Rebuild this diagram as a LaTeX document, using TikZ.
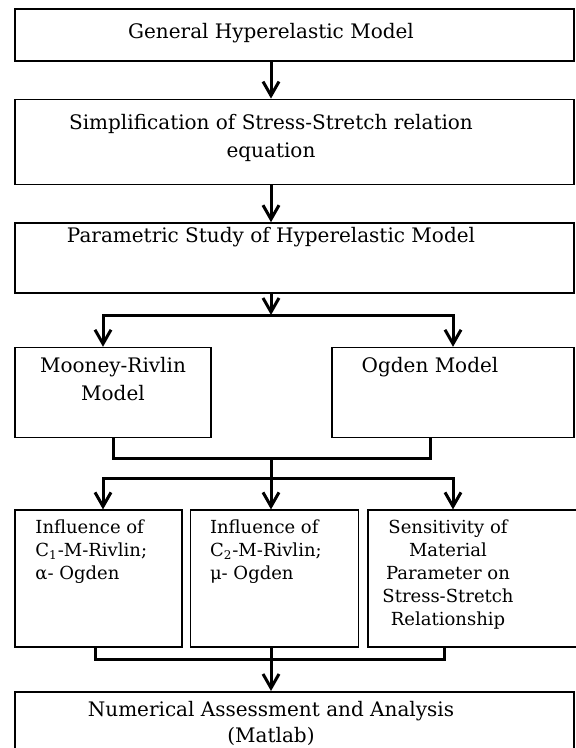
\documentclass[tikz,border=0pt]{standalone}
\usepackage{fontspec}
\setmainfont{DejaVu Serif}
\usetikzlibrary{positioning, arrows.meta}

\begin{document}
\begin{tikzpicture}[node distance=18.5pt,
   box/.style={draw, line width=0.8pt, inner sep=0pt, minimum height=#1},
   txt/.style={inner sep=0pt, align=center, font=\fontsize{10}{14}\selectfont},
   small/.style={inner sep=0pt, align=left, font=\fontsize{9}{11.5}\selectfont},
   link/.style={line width=1.5pt, -{Straight Barb[length=7pt,width=8pt]}},
   wire/.style={line width=1.5pt}]
   \useasboundingbox (0,0) rectangle (287.5pt,-374pt);
   % stems and junctions
   \coordinate (mid) at (135.5pt,0);
   \coordinate (lft) at (51.5pt,0);
   \coordinate (rgt) at (226.5pt,0);
   \coordinate (mrs) at (56.5pt,0);
   \coordinate (ogs) at (215pt,0);
   \coordinate (i1s) at (47.5pt,0);
   \coordinate (ses) at (222pt,0);
   \coordinate (j1) at (135.5pt,-157.5pt);
   \coordinate (j2) at (135.5pt,-229pt);
   \coordinate (j3) at (135.5pt,-239pt);
   \coordinate (j4) at (135.5pt,-329.5pt);

   % boxes
   \node[box=26pt, minimum width=279.5pt, anchor=north west] (gen) at (7pt,-4pt) {};
   \node[box=42.5pt, minimum width=279.5pt] (simp) [below=of gen] {};
   \node[box=35pt, minimum width=279.5pt] (par) [below=of simp] {};
   \node[box=45pt, minimum width=98pt] (mr) [below right=26.5pt and 0pt of par.south west] {};
   \node[box=45pt, minimum width=121pt] (og) [below left=26.5pt and 0pt of par.south east] {};
   \node[box=68.5pt, minimum width=83.5pt] (inf1) [below right=35.5pt and 0pt of mr.south west] {};
   \node[box=68.5pt, minimum width=84pt] (inf2) [right=3.5pt of inf1] {};
   \node[box=68.5pt, minimum width=104.5pt] (sens) [right=4pt of inf2] {};
   \node[box=34pt, minimum width=279.5pt] (num) [below right=21.5pt and 0pt of inf1.south west] {};

   % texts
   \node[txt, below=7.5pt] (gent) at (gen.north -| mid) {General Hyperelastic Model};
   \node[txt, below=7.5pt] (simpt) at (simp.north -| mid) {Simplification of Stress-Stretch relation\\equation};
   \node[txt, below=2.5pt] (part) at (par.north -| mid) {Parametric Study of Hyperelastic Model};
   \node[txt, below=5pt] (mrt) at (mr.north -| mrs) {Mooney-Rivlin\\Model};
   \node[txt, below=5pt] (ogt) at (og.north -| ogs) {Ogden Model};
   \node[small, below right=5pt and 10.5pt] (inf1t) at (inf1.north west) {Influence of\\C\textsubscript{1}-M-Rivlin;\\α- Ogden};
   \node[small, below right=5pt and 10pt] (inf2t) at (inf2.north west) {Influence of\\C\textsubscript{2}-M-Rivlin;\\μ- Ogden};
   \node[small, align=center, below=5pt, xshift=2pt] (senst) at (sens.north -| ses) {Sensitivity of\\Material\\Parameter on\\Stress-Stretch\\Relationship};
   \node[txt, below=5pt, font=\fontsize{10}{13}\selectfont] (numt) at (num.north -| mid) {Numerical Assessment and Analysis\\(Matlab)};

   % connectors
   \draw[link] (gen.south -| mid) -- (simp.north -| mid);
   \draw[link] (simp.south -| mid) -- (par.north -| mid);
   \draw[link] (par.south -| mid) -- (j1);
   \draw[link] (j1) -| (mr.north -| lft);
   \draw[link] (j1) -| (og.north -| rgt);
   \draw[wire] (mr.south -| mrs) |- (j2) -| (og.south -| ogs);
   \draw[wire] (j2) -- (j3);
   \draw[link] (j3) -| (inf1.north -| lft);
   \draw[link] (j3) -- (inf2.north -| mid);
   \draw[link] (j3) -| (sens.north -| rgt);
   \draw[wire] (inf1.south -| i1s) |- (j4) -| (sens.south -| ses);
   \draw[link] (inf2.south -| mid) -- (num.north -| mid);
\end{tikzpicture}
\end{document}
